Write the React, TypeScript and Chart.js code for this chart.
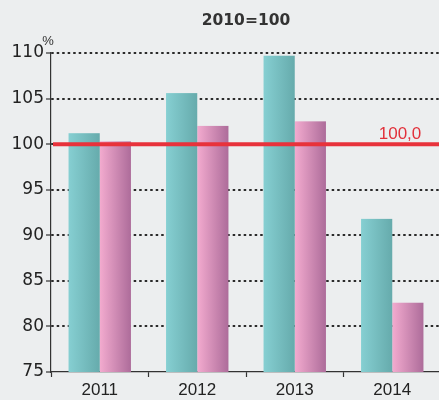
import { useEffect, useRef } from "react";
import { Chart, registerables } from "chart.js";

Chart.register(...registerables);

const categories = ["2011", "2012", "2013", "2014"];
const seriesA = [101.2, 105.6, 109.7, 91.8];
const seriesB = [100.3, 102.0, 102.5, 82.6];
const yTicks = [75, 80, 85, 90, 95, 100, 105, 110];
const referenceValue = 100;
const referenceLabel = "100,0";
const titleText = "2010=100";
const unitText = "%";

const SANS = "'Liberation Sans', Arial, sans-serif";
const WIDE = "'DejaVu Sans', Verdana, sans-serif";

const gradients: [string, string][] = [
  ["#86cfd2", "#66abac"],
  ["#f3abcf", "#ad6c9a"],
];

const barPlugin = {
  id: "gradBars",
  beforeDatasetDraw(chart: any, args: any) {
    const ctx = chart.ctx;
    const area = chart.chartArea;
    const colors = gradients[args.index];
    ctx.save();
    ctx.beginPath();
    ctx.rect(area.left, area.top - 2, area.right - area.left, area.bottom - area.top + 2);
    ctx.clip();
    for (const el of args.meta.data) {
      const { x, y, base, width } = el.getProps(["x", "y", "base", "width"], true);
      const left = x - width / 2;
      const g = ctx.createLinearGradient(left, 0, left + width, 0);
      g.addColorStop(0, colors[0]);
      g.addColorStop(1, colors[1]);
      ctx.fillStyle = g;
      ctx.fillRect(left, Math.min(y, base), width, Math.abs(base - y));
    }
    ctx.restore();
    return false;
  },
};

const decoPlugin = {
  id: "deco",
  afterDatasetsDraw(chart: any) {
    const ctx = chart.ctx;
    const { left, right, top } = chart.chartArea;
    const y = chart.scales.y.getPixelForValue(referenceValue);
    ctx.save();
    ctx.strokeStyle = "#e8323b";
    ctx.lineWidth = 4;
    ctx.beginPath();
    ctx.moveTo(left + 2, y);
    ctx.lineTo(right + 10, y);
    ctx.stroke();
    ctx.fillStyle = "#e2303a";
    ctx.font = `17px ${SANS}`;
    ctx.textAlign = "center";
    ctx.textBaseline = "alphabetic";
    ctx.fillText(referenceLabel, 400, y - 5);
    ctx.fillStyle = "#333";
    ctx.font = `bold 15.5px ${WIDE}`;
    ctx.textBaseline = "middle";
    ctx.fillText(titleText, (left + right) / 2, 21);
    ctx.font = `13px ${SANS}`;
    ctx.fillText(unitText, left - 3, top - 12);
    ctx.restore();
  },
};

export default function App() {
  const ref = useRef<HTMLCanvasElement | null>(null);
  useEffect(() => {
    if (!ref.current) return;
    const chart = new Chart(ref.current, {
      type: "bar",
      data: {
        labels: categories,
        datasets: [
          { data: seriesA, backgroundColor: gradients[0][0], borderWidth: 0 },
          { data: seriesB, backgroundColor: gradients[1][0], borderWidth: 0 },
        ],
      },
      options: {
        responsive: false,
        animation: false,
        events: [],
        layout: { padding: { top: 53, right: 9, bottom: 0, left: 0 } },
        datasets: { bar: { categoryPercentage: 0.64, barPercentage: 1 } },
        plugins: { legend: { display: false }, tooltip: { enabled: false }, title: { display: false } },
        scales: {
          x: {
            grid: {
              drawOnChartArea: false,
              drawTicks: true,
              tickLength: 5,
              tickColor: "#333",
              tickWidth: 1.2,
              offset: true,
            },
            border: { color: "#333", width: 1.2 },
            ticks: { color: "#222", font: { family: SANS, size: 17 }, padding: 3 },
            afterFit(scale: any) {
              scale.height = 28;
            },
          },
          y: {
            min: 75,
            max: 110,
            afterBuildTicks(scale: any) {
              scale.ticks = yTicks.map((v) => ({ value: v }));
            },
            grid: {
              color: (c: any) => (c.tick && c.tick.value === 75 ? "rgba(0,0,0,0)" : "#2a2a2a"),
              lineWidth: 2,
              drawTicks: true,
              tickLength: 5,
              tickColor: "#333",
              tickWidth: 1.2,
              tickBorderDash: [],
            },
            border: { color: "#333", width: 1.2, dash: [2.5, 3] },
            ticks: { color: "#222", font: { family: WIDE, size: 17 }, padding: 2 },
            afterFit(scale: any) {
              scale.width = 51;
            },
          },
        },
      },
      plugins: [barPlugin, decoPlugin],
    });
    return () => chart.destroy();
  }, []);
  return (
    <div
      style={{
        position: "fixed",
        left: 0,
        top: 0,
        width: 439,
        height: 400,
        overflow: "hidden",
        background: "#eceeef",
      }}
    >
      <canvas ref={ref} width={450} height={400} style={{ display: "block", width: 450, height: 400 }} />
    </div>
  );
}
